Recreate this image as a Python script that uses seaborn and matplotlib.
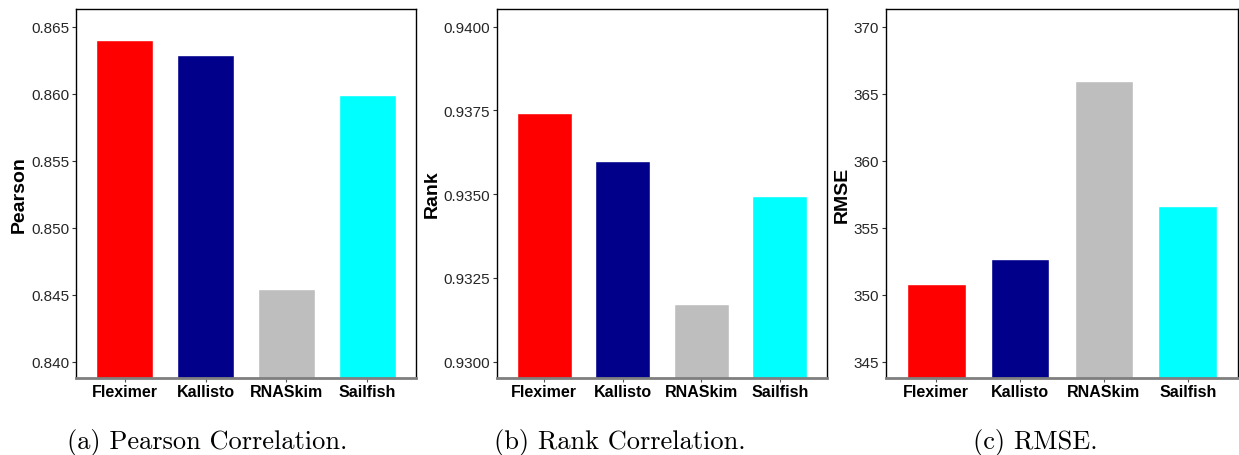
import pandas as pd
import seaborn as sns
import matplotlib.pyplot as plt

# values
tools = ['Fleximer', 'Kallisto', 'RNASkim', 'Sailfish']
pearson = [0.8640, 0.8629, 0.8454, 0.8599]
rank = [0.93742, 0.93599, 0.93172, 0.93495]
rmse = [350.8, 352.66, 365.95, 356.62]
bar_colors = ['#FF0000', '#00008B', '#BEBEBE', '#00FFFF']

pearson_ticks = [0.840, 0.845, 0.850, 0.855, 0.860, 0.865]
rank_ticks = [0.9300, 0.9325, 0.9350, 0.9375, 0.9400]
rmse_ticks = [345, 350, 355, 360, 365, 370]

captions = ['(a) Pearson Correlation.', '(b) Rank Correlation.', '(c) RMSE.']

sns.set_style('white')
plt.rcParams['font.family'] = ['Liberation Sans', 'DejaVu Sans']

fig = plt.figure(figsize=(12.39, 4.56), dpi=100)

panels = [
    # left, width, values, label, ticks, fmt, ylim
    (0.0613, 0.2745, pearson, 'Pearson', pearson_ticks, '{:.3f}', (0.83878, 0.86632)),
    (0.4011, 0.2664, rank, 'Rank', rank_ticks, '{:.4f}', (0.92951, 0.94053)),
    (0.7151, 0.2841, rmse, 'RMSE', rmse_ticks, '{:.0f}', (343.78, 371.32)),
]

for left, width, vals, label, ticks, fmt, ylim in panels:
    ax = fig.add_axes([left, 0.1689, width, 0.8092])
    df = pd.DataFrame({'tool': tools, 'value': vals})
    sns.barplot(data=df, x='tool', y='value', hue='tool', palette=bar_colors,
                width=0.7, saturation=1, legend=False, ax=ax)
    ax.set_xlim(-0.6, 3.6)
    ax.set_ylim(*ylim)
    ax.set_yticks(ticks)
    ax.set_yticklabels([fmt.format(t) for t in ticks])
    ax.set_xlabel('')
    ax.set_ylabel(label, fontsize=14, fontweight='bold', labelpad=2, color='black')
    ax.tick_params(axis='y', length=3, width=0.8, color='#333333',
                   labelsize=11, labelcolor='#262626', pad=2, left=True)
    ax.tick_params(axis='x', length=3, width=0.8, color='#555555',
                   labelsize=11.5, labelcolor='black', pad=1, bottom=True)
    for t in ax.get_xticklabels():
        t.set_fontweight('bold')
    for side in ['top', 'left', 'right']:
        ax.spines[side].set_color('black')
        ax.spines[side].set_linewidth(1)
    ax.spines['bottom'].set_color('#7F7F7F')
    ax.spines['bottom'].set_linewidth(2)

# sub-figure captions in a LaTeX-like serif
cap_x = [207, 620, 1035]
for x, cap in zip(cap_x, captions):
    fig.text(x / 1239, 1 - 443 / 456, cap, ha='center', va='center',
             fontsize=19, color='black', family=['cmr10', 'DejaVu Serif'])

plt.savefig('out.png', dpi=100)
